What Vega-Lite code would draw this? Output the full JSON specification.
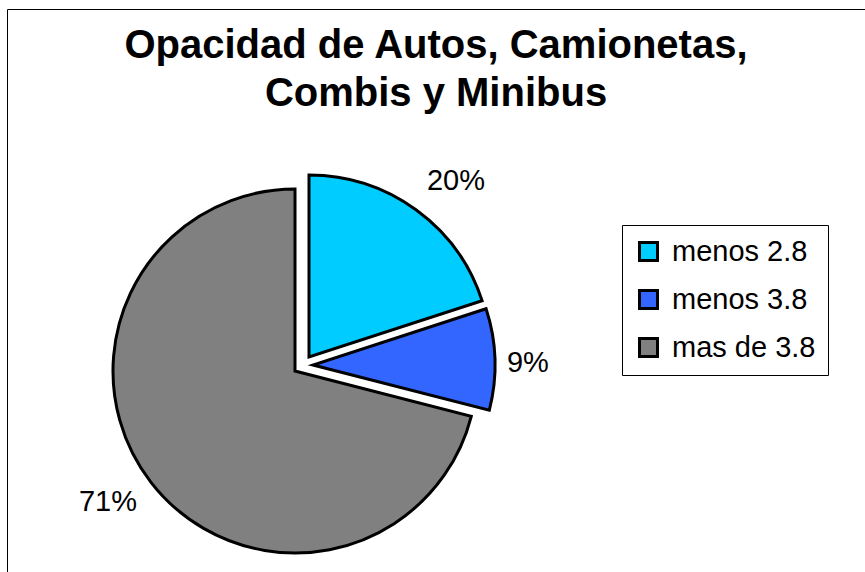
{
  "$schema": "https://vega.github.io/schema/vega-lite/v6.json",
  "width": 878,
  "height": 583,
  "autosize": {"type": "none"},
  "padding": {"left": 7, "top": 9, "right": -20, "bottom": -20},
  "background": "white",
  "view": {"stroke": "#000000", "strokeWidth": 1, "fill": "white"},
  "config": {
    "view": {"stroke": "#000000", "strokeWidth": 1},
    "font": "Liberation Sans"
  },
  "title": {
    "text": ["Opacidad de Autos, Camionetas,", "Combis y Minibus\u00a0\u00a0"],
    "font": "Liberation Sans",
    "fontSize": 40,
    "fontWeight": "bold",
    "color": "#000000",
    "lineHeight": 48,
    "anchor": "middle",
    "frame": "group",
    "offset": -105,
    "dx": -10
  },
  "data": {
    "values": [
      {"category": "menos 2.8", "value": 0.20, "order": 1},
      {"category": "menos 3.8", "value": 0.09, "order": 2},
      {"category": "mas de 3.8", "value": 0.71, "order": 3}
    ]
  },
  "transform": [
    {"stack": "value", "groupby": [], "sort": [{"field": "order", "order": "ascending"}], "as": ["v0", "v1"]}
  ],
  "encoding": {
    "color": {
      "field": "category",
      "type": "nominal",
      "scale": {"domain": ["menos 2.8", "menos 3.8", "mas de 3.8"], "range": ["#00CCFF", "#3366FF", "#808080"]},
      "legend": {
        "title": null,
        "orient": "none",
        "legendX": 615,
        "legendY": 216,
        "strokeColor": "#000000",
        "padding": 12,
        "symbolType": "square",
        "symbolSize": 324,
        "symbolStrokeColor": "#000000",
        "symbolStrokeWidth": 3,
        "symbolOpacity": 1,
        "labelFont": "Liberation Sans",
        "labelFontSize": 29,
        "labelColor": "#000000",
        "labelOffset": 9,
        "rowPadding": 17,
        "fillColor": "white"
      }
    }
  },
  "layer": [
    {
      "transform": [{"filter": "datum.category === 'menos 2.8'"}],
      "mark": {"type": "arc", "outerRadius": 182, "stroke": "#000000", "strokeWidth": 3, "xOffset": -137, "yOffset": 56.5},
      "encoding": {
        "theta": {"field": "v0", "type": "quantitative", "scale": {"domain": [0, 1]}},
        "theta2": {"field": "v1"}
      }
    },
    {
      "transform": [{"filter": "datum.category === 'menos 3.8'"}],
      "mark": {"type": "arc", "outerRadius": 182, "stroke": "#000000", "strokeWidth": 3, "xOffset": -133, "yOffset": 64.5},
      "encoding": {
        "theta": {"field": "v0", "type": "quantitative", "scale": {"domain": [0, 1]}},
        "theta2": {"field": "v1"}
      }
    },
    {
      "transform": [{"filter": "datum.category === 'mas de 3.8'"}],
      "mark": {"type": "arc", "outerRadius": 182, "stroke": "#000000", "strokeWidth": 3, "xOffset": -151, "yOffset": 70.5},
      "encoding": {
        "theta": {"field": "v0", "type": "quantitative", "scale": {"domain": [0, 1]}},
        "theta2": {"field": "v1"}
      }
    },
    {
      "mark": {"type": "text", "radius": 238, "fontSize": 29, "font": "Liberation Sans", "fill": "#000000", "align": "center", "baseline": "middle", "xOffset": -143, "yOffset": 64.5, "dx": 13, "dy": 9},
      "encoding": {
        "theta": {"field": "value", "type": "quantitative", "stack": true, "scale": {"domain": [0, 1]}},
        "order": {"field": "order", "type": "quantitative"},
        "text": {"condition": {"test": "datum.category === 'menos 2.8'", "field": "value", "type": "quantitative", "format": ".0%"}, "value": ""},
        "color": {"value": "#000000"}
      }
    },
    {
      "mark": {"type": "text", "radius": 225, "fontSize": 29, "font": "Liberation Sans", "fill": "#000000", "align": "center", "baseline": "middle", "xOffset": -143, "yOffset": 64.5, "dx": 0, "dy": 5},
      "encoding": {
        "theta": {"field": "value", "type": "quantitative", "stack": true, "scale": {"domain": [0, 1]}},
        "order": {"field": "order", "type": "quantitative"},
        "text": {"condition": {"test": "datum.category === 'menos 3.8'", "field": "value", "type": "quantitative", "format": ".0%"}, "value": ""},
        "color": {"value": "#000000"}
      }
    },
    {
      "mark": {"type": "text", "radius": 238, "fontSize": 29, "font": "Liberation Sans", "fill": "#000000", "align": "center", "baseline": "middle", "xOffset": -143, "yOffset": 64.5, "dx": -7, "dy": -9},
      "encoding": {
        "theta": {"field": "value", "type": "quantitative", "stack": true, "scale": {"domain": [0, 1]}},
        "order": {"field": "order", "type": "quantitative"},
        "text": {"condition": {"test": "datum.category === 'mas de 3.8'", "field": "value", "type": "quantitative", "format": ".0%"}, "value": ""},
        "color": {"value": "#000000"}
      }
    }
  ]
}
